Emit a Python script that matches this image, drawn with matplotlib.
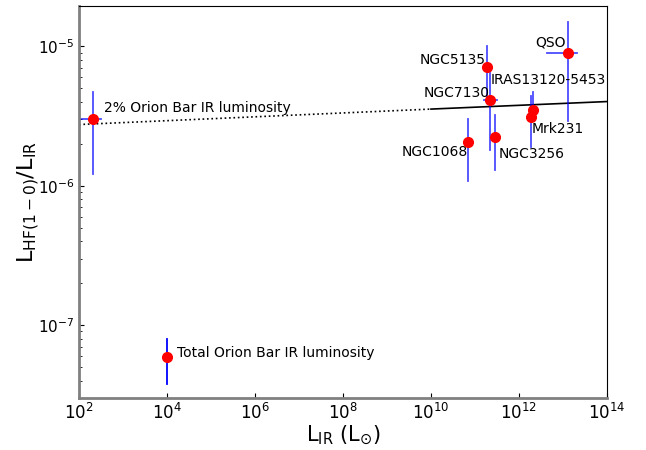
import numpy as np
import matplotlib.pyplot as plt

# HF(1-0) / L_IR ratios against IR luminosity
names = ["NGC5135", "NGC7130", "NGC1068", "NGC3256", "Mrk231", "IRAS13120-5453", "QSO"]
l_ir = [1.86e11, 2.2e11, 6.8e10, 2.9e11, 1.85e12, 2.1e12, 1.3e13]
ratio = [7.1e-6, 4.1e-6, 2.07e-6, 2.25e-6, 3.13e-6, 3.5e-6, 9.0e-6]
ratio_hi = [1.0e-5, 6.4e-6, 3.03e-6, 3.2e-6, 4.4e-6, 4.7e-6, 1.5e-5]
ratio_lo = [4.0e-6, 1.8e-6, 1.09e-6, 1.3e-6, 1.9e-6, 3.0e-6, 2.9e-6]
l_ir_lo = [1.7e11, 1.6e11, 6.8e10, 2.9e11, 1.85e12, 2.1e12, 4.3e12]
l_ir_hi = [2.0e11, 3.1e11, 6.8e10, 2.9e11, 1.85e12, 2.1e12, 2.1e13]

# Orion Bar points
orion_x = [2.1e2, 1.0e4]
orion_y = [3.0e-6, 5.9e-8]
orion_hi = [4.7e-6, 8.0e-8]
orion_lo = [1.22e-6, 3.8e-8]
orion_labels = ["2% Orion Bar IR luminosity", "Total Orion Bar IR luminosity"]

# fitted trend line
fit_x = [1e2, 1e10, 1e14]
fit_y = [2.75e-6, 3.55e-6, 4.02e-6]

fig = plt.figure(figsize=(6.46, 4.5), dpi=100)
ax = fig.add_axes([0.1223, 0.1156, 0.8173, 0.8711])

ax.plot(fit_x[:2], fit_y[:2], color="black", ls=":", lw=1.2)
ax.plot(fit_x[1:], fit_y[1:], color="black", ls="-", lw=1.2)

for i in range(len(names)):
    ax.plot([l_ir[i], l_ir[i]], [ratio_lo[i], ratio_hi[i]], color="blue", alpha=0.7, lw=1.3)
    if l_ir_lo[i] != l_ir_hi[i]:
        ax.plot([l_ir_lo[i], l_ir_hi[i]], [ratio[i], ratio[i]], color="blue", alpha=0.7, lw=1.3)

# 2% Orion Bar with horizontal bar
ax.plot([orion_x[0], orion_x[0]], [orion_lo[0], orion_hi[0]], color="blue", alpha=0.7, lw=1.3)
ax.plot([1.05e2, 3.2e2], [orion_y[0], orion_y[0]], color="blue", alpha=0.7, lw=1.3)
ax.plot([orion_x[1], orion_x[1]], [orion_lo[1], orion_hi[1]], color="blue", lw=1.3)

ax.plot(l_ir, ratio, "o", color="red", ms=7, zorder=5)
ax.plot(orion_x, orion_y, "o", color="red", ms=7, zorder=5)

fs = 10
ax.text(1.75e11, 8.05e-6, "NGC5135", ha="right", va="center", fontsize=fs)
ax.text(1.15e13, 1.06e-5, "QSO", ha="right", va="center", fontsize=fs)
ax.text(2.3e11, 5.7e-6, "IRAS13120-5453", ha="left", va="center", fontsize=fs)
ax.text(2.1e11, 4.6e-6, "NGC7130", ha="right", va="center", fontsize=fs)
ax.text(1.95e12, 2.55e-6, "Mrk231", ha="left", va="center", fontsize=fs)
ax.text(3.5e11, 1.7e-6, "NGC3256", ha="left", va="center", fontsize=fs)
ax.text(7.0e10, 1.75e-6, "NGC1068", ha="right", va="center", fontsize=fs)
ax.text(3.7e2, 3.6e-6, orion_labels[0], ha="left", va="center", fontsize=fs)
ax.text(1.7e4, 6.3e-8, orion_labels[1], ha="left", va="center", fontsize=fs)

ax.set_xscale("log")
ax.set_yscale("log")
ax.set_xlim(1e2, 1e14)
ax.set_ylim(3e-8, 1.95e-5)
ax.set_xticks([1e2, 1e4, 1e6, 1e8, 1e10, 1e12, 1e14])
ax.tick_params(which="both", direction="in", labelsize=12)
ax.tick_params(axis="y", labelsize=11)
for s in ["left", "bottom"]:
    ax.spines[s].set_color("gray")
    ax.spines[s].set_linewidth(2)

ax.set_xlabel(r"$\mathrm{L_{IR}\ (L_{\odot})}$", fontsize=15, labelpad=1)
ax.set_ylabel(r"$\mathrm{L_{HF(1-0)}/L_{IR}}$", fontsize=16, labelpad=-3)

plt.savefig("out.png")
